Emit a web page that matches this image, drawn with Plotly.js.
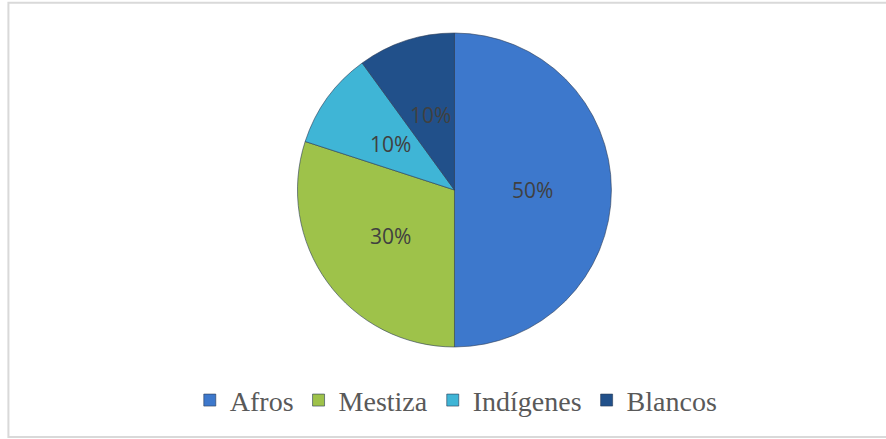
<!DOCTYPE html>
<html>
<head>
<meta charset="utf-8">
<script src="https://cdn.plot.ly/plotly-3.0.1.min.js"></script>
<style>html,body{margin:0;padding:0;background:#fff;}#chart{width:886px;height:439px;}</style>
</head>
<body>
<div id="chart"></div>
<script>
const categories = ["Afros", "Mestiza", "Indígenes", "Blancos"];
const values = [50, 30, 10, 10];
const pctLabels = ["50%", "30%", "10%", "10%"];
const colors = ["#3d78cc", "#9ec24a", "#3fb5d6", "#21508a"];

const W = 886, H = 439;
const dom = {x: [0.3352, 0.6907], y: [0.2096, 0.9248]};

const trace = {
  type: "pie",
  labels: categories,
  values: values,
  sort: false,
  direction: "clockwise",
  rotation: 0,
  marker: {colors: colors, line: {color: "#2a3a55", width: 0.6}},
  textinfo: "none",
  hoverinfo: "label+percent",
  domain: dom
};

// data labels placed at half radius along each slice's mid-angle
const cx = (dom.x[0] + dom.x[1]) / 2, cy = (dom.y[0] + dom.y[1]) / 2;
const R = Math.min((dom.x[1] - dom.x[0]) * W, (dom.y[1] - dom.y[0]) * H) / 2;
const rl = R * 0.5;
const total = values.reduce((a, b) => a + b, 0);
let cum = 0;
const annotations = values.map((v, i) => {
  const mid = (cum + v / 2) / total * 2 * Math.PI;
  cum += v;
  return {
    xref: "paper", yref: "paper",
    x: cx + rl * Math.sin(mid) / W,
    y: cy + rl * Math.cos(mid) / H,
    text: pctLabels[i], showarrow: false,
    xanchor: "center", yanchor: "middle",
    font: {family: "Open Sans, sans-serif", size: 21, color: "#404040"}
  };
});

const layout = {
  width: W, height: H,
  margin: {l: 0, r: 0, t: 0, b: 0},
  paper_bgcolor: "#ffffff",
  showlegend: true,
  legend: {
    orientation: "h", x: 0.515, xanchor: "center", y: 0.088, yanchor: "middle",
    font: {family: "Liberation Serif, Times New Roman, serif", size: 28, color: "#595959"},
    itemwidth: 30, traceorder: "normal"
  },
  annotations: annotations,
  shapes: [{
    type: "rect", xref: "paper", yref: "paper",
    x0: 0.0095, x1: 1.01, y0: 0.0045, y1: 0.9935,
    line: {color: "#d9d9d9", width: 2}, fillcolor: "rgba(0,0,0,0)"
  }]
};

Plotly.newPlot("chart", [trace], layout, {displayModeBar: false, staticPlot: true});
</script>
</body>
</html>
